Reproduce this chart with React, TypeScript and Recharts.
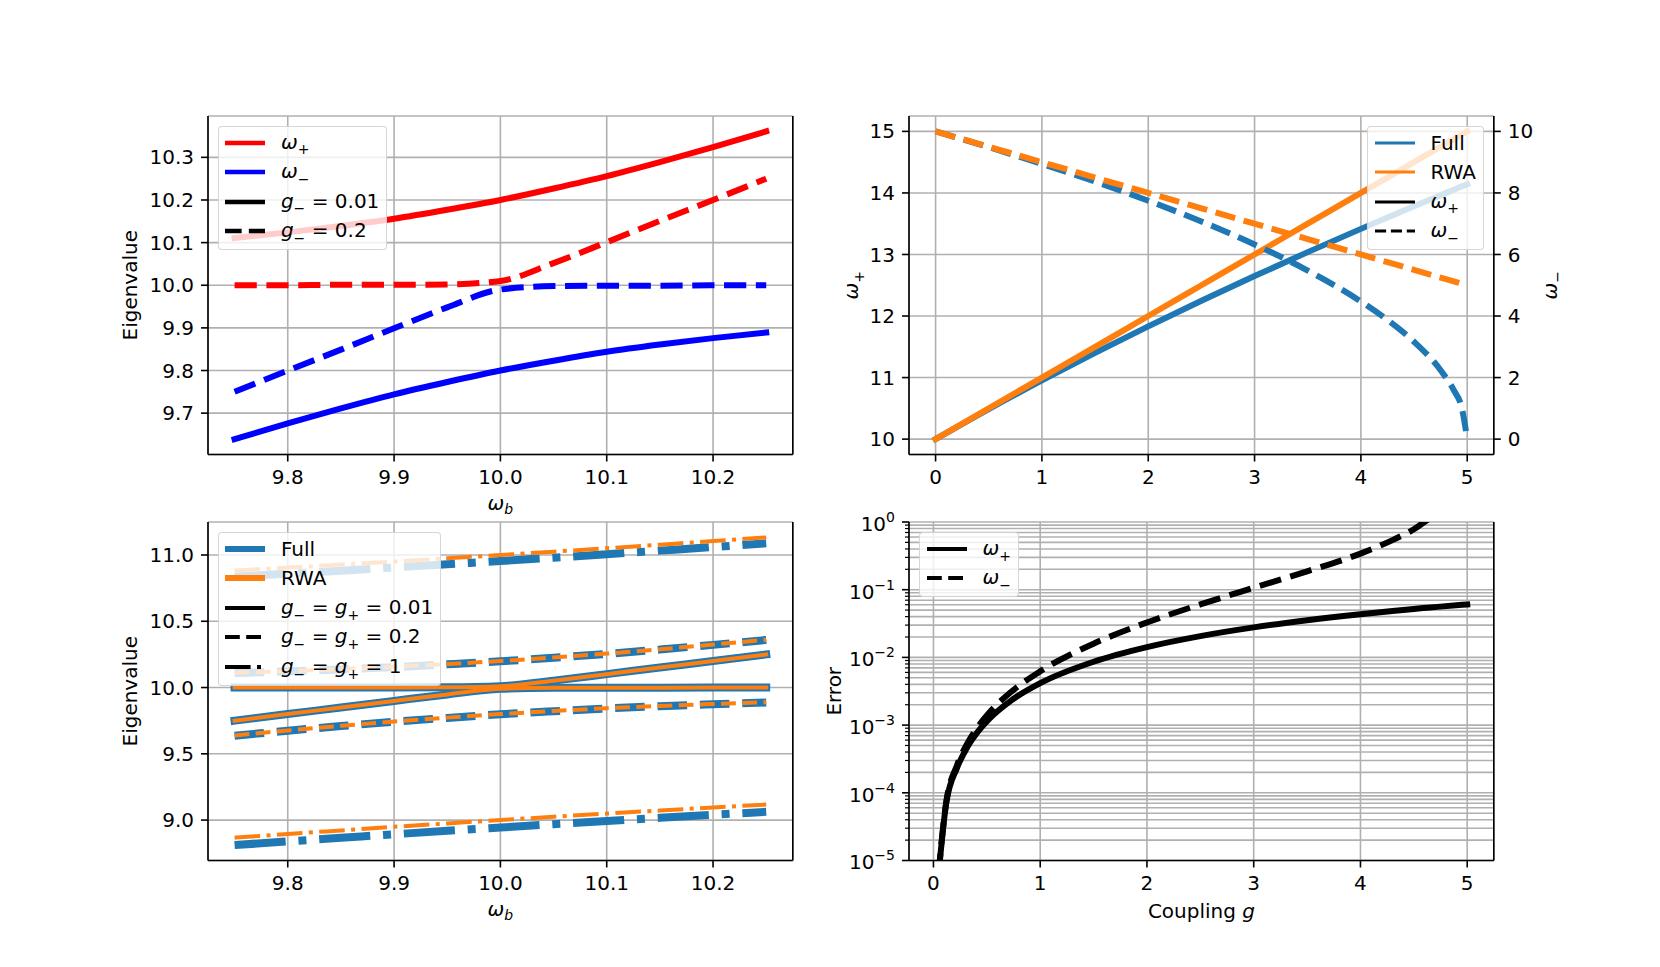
import React from "react";
import { LineChart, Line, XAxis, YAxis, CartesianGrid } from "recharts";

const FONT = '"DejaVu Sans", sans-serif';
const FS = 20;
const SUB = 14;
const GRID = "#b0b0b0";
const FULL = "#1f77b4";
const RWA = "#ff7f0e";

// axes box geometry (matplotlib default subplot params at 1660x967)
const PW = 584.8;
const PH = 338.5;
const YW = 100;
const MT = 20;
const XH = 70;
const CW = YW + PW + YW;
const CH = MT + PH + XH;
const COL = [207.5, 909.2];
const ROW = [116, 522.2];

// ---- top-left: eigenvalues vs omega_b
const wb = [9.75, 9.8, 9.85, 9.9, 9.95, 10.0, 10.05, 10.1, 10.15, 10.2, 10.25];
const tlUpSolid = [10.111, 10.124, 10.139, 10.156, 10.177, 10.2, 10.227, 10.256, 10.289, 10.324, 10.361];
const tlLoSolid = [9.639, 9.676, 9.711, 9.744, 9.773, 9.8, 9.823, 9.844, 9.861, 9.876, 9.889];
const tlUpDash = [10.0, 10.0, 10.001, 10.001, 10.002, 10.01, 10.052, 10.101, 10.151, 10.2, 10.25];
const tlLoDash = [9.75, 9.8, 9.849, 9.899, 9.948, 9.99, 9.998, 9.999, 9.999, 10.0, 10.0];
const wbTicks = [9.8, 9.9, 10.0, 10.1, 10.2];
const tlYTicks = [9.7, 9.8, 9.9, 10.0, 10.1, 10.2, 10.3];

// ---- top-right: omega_+/- vs coupling g
const g = [0, 0.5, 1, 1.5, 2, 2.5, 3, 3.5, 4, 4.25, 4.5, 4.75, 4.875, 4.95, 5];
const fullPlus = [10, 10.488, 10.954, 11.402, 11.832, 12.247, 12.649, 13.038, 13.416, 13.601, 13.784, 13.964, 14.053, 14.107, 14.142];
const fullMinus = [10, 9.487, 8.944, 8.367, 7.746, 7.071, 6.325, 5.477, 4.472, 3.873, 3.162, 2.236, 1.581, 1.0, 0];
const rwaPlus = [10, 10.5, 11, 11.5, 12, 12.5, 13, 13.5, 14, 14.25, 14.5, 14.75, 14.875, 14.95, 15];
const rwaMinus = [10, 9.5, 9, 8.5, 8, 7.5, 7, 6.5, 6, 5.75, 5.5, 5.25, 5.125, 5.05, 5];
const gTicks = [0, 1, 2, 3, 4, 5];
const trLeftTicks = [10, 11, 12, 13, 14, 15];
const trRightTicks = [0, 2, 4, 6, 8, 10];

// ---- bottom-left: Full vs RWA for three couplings
const b001Up = [10.0, 10.0, 10.001, 10.001, 10.002, 10.01, 10.052, 10.101, 10.151, 10.2, 10.25];
const b001Lo = [9.75, 9.8, 9.849, 9.899, 9.948, 9.99, 9.998, 9.999, 9.999, 10.0, 10.0];
const b02FullUp = [10.109, 10.122, 10.137, 10.154, 10.175, 10.198, 10.225, 10.254, 10.287, 10.322, 10.359];
const b02FullLo = [9.637, 9.674, 9.709, 9.742, 9.771, 9.798, 9.821, 9.842, 9.859, 9.874, 9.887];
const b02RwaUp = [10.111, 10.124, 10.139, 10.156, 10.177, 10.2, 10.227, 10.256, 10.289, 10.324, 10.361];
const b02RwaLo = [9.639, 9.676, 9.711, 9.744, 9.773, 9.8, 9.823, 9.844, 9.861, 9.876, 9.889];
const b1FullUp = [10.837, 10.859, 10.882, 10.906, 10.93, 10.954, 10.98, 11.006, 11.033, 11.06, 11.088];
const b1FullLo = [8.811, 8.839, 8.866, 8.893, 8.919, 8.944, 8.969, 8.993, 9.017, 9.04, 9.062];
const b1RwaUp = [10.883, 10.905, 10.928, 10.951, 10.975, 11.0, 11.025, 11.051, 11.078, 11.105, 11.133];
const b1RwaLo = [8.867, 8.895, 8.922, 8.949, 8.975, 9.0, 9.025, 9.049, 9.072, 9.095, 9.117];
const blYTicks = [9.0, 9.5, 10.0, 10.5, 11.0];

// ---- bottom-right: relative error of RWA
const gErr = [0.02, 0.12, 0.22, 0.32, 0.42, 0.52, 0.72, 1.0, 1.5, 2, 2.5, 3, 3.5, 4, 4.3, 4.5, 4.62, 4.72, 5];
const errPlus = [1.99e-6, 7.03e-5, 2.318e-4, 4.81e-4, 8.13e-4, 1.224e-3, 2.263e-3, 4.158e-3, 8.62e-3, 1.419e-2, 2.062e-2, 2.774e-2, 3.54e-2, 4.35e-2, 4.853e-2, 5.194e-2, 5.401e-2, 5.575e-2, 6.066e-2];
const errMinus = [2.01e-6, 7.38e-5, 2.531e-4, 5.47e-4, 9.62e-4, 1.508e-3, 3.023e-3, 6.231e-3, 1.594e-2, 3.28e-2, 6.066e-2, 0.1068, 0.1867, 0.3416, 0.54, 0.78, 1.05, 1.3, null];
const logMajor = [1e-5, 1e-4, 1e-3, 1e-2, 1e-1, 1];
const logTicks = logMajor.flatMap((m) => (m === 1 ? [1] : [1, 2, 3, 4, 5, 6, 7, 8, 9].map((k) => k * m)));

const tlData = wb.map((x, i) => ({ x, upS: tlUpSolid[i], loS: tlLoSolid[i], upD: tlUpDash[i], loD: tlLoDash[i] }));
const trData = g.map((x, i) => ({ x, fp: fullPlus[i], fm: fullMinus[i], rp: rwaPlus[i], rm: rwaMinus[i] }));
const blData = wb.map((x, i) => ({
  x,
  a1: b001Up[i], a2: b001Lo[i],
  f2u: b02FullUp[i], f2l: b02FullLo[i], r2u: b02RwaUp[i], r2l: b02RwaLo[i],
  f1u: b1FullUp[i], f1l: b1FullLo[i], r1u: b1RwaUp[i], r1l: b1RwaLo[i],
}));
const brData = gErr.map((x, i) => ({ x, ep: errPlus[i], em: errMinus[i] }));

const dashed = (w: number) => `${3.7 * w} ${1.6 * w}`;
const dashdot = (w: number) => `${6.4 * w} ${1.6 * w} ${w} ${1.6 * w}`;
const f1 = (v: number) => v.toFixed(1);
const f0 = (v: number) => String(v);

const spine = { stroke: "#000", strokeWidth: 1.6 };
const tickStyle = { fill: "#000", fontSize: FS, fontFamily: FONT };
const axisCommon = {
  stroke: "#000",
  axisLine: spine,
  tickLine: spine,
  tickSize: 7,
  tick: tickStyle,
  interval: 0 as const,
};

const Sub = ({ children }: { children: React.ReactNode }) => (
  <span style={{ fontSize: SUB, position: "relative", top: 5.6 }}>{children}</span>
);
const Om = ({ s }: { s: string }) => (
  <>
    <i>ω</i>
    <Sub>{s}</Sub>
  </>
);
const G = ({ s }: { s: string }) => (
  <>
    <i>g</i>
    <Sub>{s}</Sub>
  </>
);

type Entry = { color: string; width: number; dash?: string; label: React.ReactNode };

function Legend({ entries, pos }: { entries: Entry[]; pos: React.CSSProperties }) {
  return (
    <div
      style={{
        position: "absolute",
        ...pos,
        background: "rgba(255,255,255,0.8)",
        border: "1.6px solid rgba(204,204,204,0.8)",
        borderRadius: 4,
        padding: "1px 7px 3px 6.4px",
        fontFamily: FONT,
        fontSize: FS,
        color: "#000",
      }}
    >
      {entries.map((e, i) => (
        <div key={i} style={{ display: "flex", alignItems: "center", height: 29.5 }}>
          <svg width={40} height={12} style={{ flex: "none", overflow: "visible" }}>
            <line x1={0} x2={40} y1={6} y2={6} stroke={e.color} strokeWidth={e.width} strokeDasharray={e.dash} />
          </svg>
          <span style={{ marginLeft: 16, whiteSpace: "nowrap", lineHeight: "20px" }}>{e.label}</span>
        </div>
      ))}
    </div>
  );
}

// axis titles, placed against the known axes box of every panel
const xTitle = (node: React.ReactNode, dy: number) => () => (
  <text x={YW + PW / 2} y={MT + PH + dy} textAnchor="middle" fontSize={FS} fontFamily={FONT} fill="#000">
    {node}
  </text>
);
const yTitle = (node: React.ReactNode, bx: number) => () => {
  const cy = MT + PH / 2;
  return (
    <text x={bx} y={cy} transform={`rotate(-90 ${bx} ${cy})`} textAnchor="middle" fontSize={FS} fontFamily={FONT} fill="#000">
      {node}
    </text>
  );
};

const omWb = (
  <>
    <tspan fontStyle="italic">ω</tspan>
    <tspan fontStyle="italic" fontSize={SUB} dy={4}>b</tspan>
  </>
);
const svgOm = (s: string) => (
  <>
    <tspan fontStyle="italic">ω</tspan>
    <tspan fontSize={SUB} dy={5.6}>{s}</tspan>
  </>
);

function LogTick({ x, y, payload }: any) {
  const v = payload.value;
  const major = logMajor.includes(v);
  const sx = x + 14;
  const e = Math.round(Math.log10(v));
  return (
    <g>
      <line x1={sx - (major ? 7 : 4)} x2={sx} y1={y} y2={y} stroke="#000" strokeWidth={major ? 1.6 : 1.2} />
      {major && (
        <text x={x} y={y + 9} textAnchor="end" fontSize={FS} fontFamily={FONT} fill="#000">
          10
          <tspan fontSize={SUB} dy={-9}>{e < 0 ? `\u2212${-e}` : `${e}`}</tspan>
        </text>
      )}
    </g>
  );
}

const lineBase = { dot: false, activeDot: false, isAnimationActive: false, type: "monotone" as const };

function Panel({ c, r, children }: { c: number; r: number; children: React.ReactNode }) {
  return (
    <div style={{ position: "absolute", left: COL[c] - YW, top: ROW[r] - MT, width: CW, height: CH }}>{children}</div>
  );
}

const margin = { top: MT, right: 0, bottom: 0, left: 0 };

function TopLeft() {
  return (
    <Panel c={0} r={0}>
      <LineChart width={CW} height={CH} data={tlData} margin={margin}>
        <CartesianGrid stroke={GRID} strokeWidth={1.6} />
        <Line {...lineBase} dataKey="upS" stroke="#ff0000" strokeWidth={6} strokeLinecap="square" />
        <Line {...lineBase} dataKey="loS" stroke="#0000ff" strokeWidth={6} strokeLinecap="square" />
        <Line {...lineBase} dataKey="upD" stroke="#ff0000" strokeWidth={6} strokeDasharray={dashed(6)} />
        <Line {...lineBase} dataKey="loD" stroke="#0000ff" strokeWidth={6} strokeDasharray={dashed(6)} />
        <XAxis dataKey="x" type="number" domain={[9.725, 10.275]} ticks={wbTicks} tickFormatter={f1} height={XH} tickMargin={8} {...axisCommon} label={xTitle(omWb, 56)} />
        <XAxis xAxisId="top" orientation="top" type="number" domain={[0, 1]} height={0} tick={false} tickLine={false} axisLine={spine} />
        <YAxis type="number" domain={[9.603, 10.397]} ticks={tlYTicks} tickFormatter={f1} width={YW} tickMargin={7} {...axisCommon} label={yTitle("Eigenvalue", YW - 71)} />
        <YAxis yAxisId="spine" orientation="right" type="number" domain={[0, 1]} width={YW} tick={false} tickLine={false} axisLine={spine} />
      </LineChart>
      <Legend
        pos={{ left: YW + 10, top: MT + 10 }}
        entries={[
          { color: "#ff0000", width: 4.5, label: <Om s="+" /> },
          { color: "#0000ff", width: 4.5, label: <Om s={"\u2212"} /> },
          { color: "#000", width: 4.5, label: <><G s={"\u2212"} /> = 0.01</> },
          { color: "#000", width: 4.5, dash: dashed(4.5), label: <><G s={"\u2212"} /> = 0.2</> },
        ]}
      />
    </Panel>
  );
}

function TopRight() {
  return (
    <Panel c={1} r={0}>
      <LineChart width={CW} height={CH} data={trData} margin={margin}>
        <CartesianGrid stroke={GRID} strokeWidth={1.6} yAxisId="left" />
        <Line {...lineBase} yAxisId="left" dataKey="fp" stroke={FULL} strokeWidth={6} strokeLinecap="square" />
        <Line {...lineBase} yAxisId="left" dataKey="rp" stroke={RWA} strokeWidth={6} strokeLinecap="square" />
        <Line {...lineBase} yAxisId="right" dataKey="fm" stroke={FULL} strokeWidth={6} strokeDasharray={dashed(5.5)} />
        <Line {...lineBase} yAxisId="right" dataKey="rm" stroke={RWA} strokeWidth={6} strokeDasharray={dashed(5.5)} />
        <XAxis dataKey="x" type="number" domain={[-0.25, 5.25]} ticks={gTicks} tickFormatter={f0} height={XH} tickMargin={8} {...axisCommon} />
        <XAxis xAxisId="top" orientation="top" type="number" domain={[0, 1]} height={0} tick={false} tickLine={false} axisLine={spine} />
        <YAxis yAxisId="left" type="number" domain={[9.75, 15.25]} ticks={trLeftTicks} tickFormatter={f0} width={YW} tickMargin={7} {...axisCommon} label={yTitle(svgOm("+"), YW - 51)} />
        <YAxis yAxisId="right" orientation="right" type="number" domain={[-0.5, 10.5]} ticks={trRightTicks} tickFormatter={f0} width={YW} tickMargin={7} {...axisCommon} label={yTitle(svgOm("\u2212"), YW + PW + 63)} />
      </LineChart>
      <Legend
        pos={{ right: YW + 10, top: MT + 10 }}
        entries={[
          { color: FULL, width: 3, label: "Full" },
          { color: RWA, width: 3, label: "RWA" },
          { color: "#000", width: 3, label: <Om s="+" /> },
          { color: "#000", width: 3, dash: dashed(3), label: <Om s={"\u2212"} /> },
        ]}
      />
    </Panel>
  );
}

function BottomLeft() {
  return (
    <Panel c={0} r={1}>
      <LineChart width={CW} height={CH} data={blData} margin={margin}>
        <CartesianGrid stroke={GRID} strokeWidth={1.6} />
        <Line {...lineBase} dataKey="a1" stroke={FULL} strokeWidth={8} strokeLinecap="square" />
        <Line {...lineBase} dataKey="a2" stroke={FULL} strokeWidth={8} strokeLinecap="square" />
        <Line {...lineBase} dataKey="a1" stroke={RWA} strokeWidth={4} strokeLinecap="square" />
        <Line {...lineBase} dataKey="a2" stroke={RWA} strokeWidth={4} strokeLinecap="square" />
        <Line {...lineBase} dataKey="f2u" stroke={FULL} strokeWidth={8} strokeDasharray={dashed(8)} />
        <Line {...lineBase} dataKey="f2l" stroke={FULL} strokeWidth={8} strokeDasharray={dashed(8)} />
        <Line {...lineBase} dataKey="r2u" stroke={RWA} strokeWidth={4} strokeDasharray={dashed(4)} />
        <Line {...lineBase} dataKey="r2l" stroke={RWA} strokeWidth={4} strokeDasharray={dashed(4)} />
        <Line {...lineBase} dataKey="f1u" stroke={FULL} strokeWidth={8} strokeDasharray={dashdot(8)} />
        <Line {...lineBase} dataKey="f1l" stroke={FULL} strokeWidth={8} strokeDasharray={dashdot(8)} />
        <Line {...lineBase} dataKey="r1u" stroke={RWA} strokeWidth={4} strokeDasharray={dashdot(4)} />
        <Line {...lineBase} dataKey="r1l" stroke={RWA} strokeWidth={4} strokeDasharray={dashdot(4)} />
        <XAxis dataKey="x" type="number" domain={[9.725, 10.275]} ticks={wbTicks} tickFormatter={f1} height={XH} tickMargin={8} {...axisCommon} label={xTitle(omWb, 56)} />
        <XAxis xAxisId="top" orientation="top" type="number" domain={[0, 1]} height={0} tick={false} tickLine={false} axisLine={spine} />
        <YAxis type="number" domain={[8.695, 11.249]} ticks={blYTicks} tickFormatter={f1} width={YW} tickMargin={7} {...axisCommon} label={yTitle("Eigenvalue", YW - 71)} />
        <YAxis yAxisId="spine" orientation="right" type="number" domain={[0, 1]} width={YW} tick={false} tickLine={false} axisLine={spine} />
      </LineChart>
      <Legend
        pos={{ left: YW + 10, top: MT + 10 }}
        entries={[
          { color: FULL, width: 6, label: "Full" },
          { color: RWA, width: 6, label: "RWA" },
          { color: "#000", width: 4, label: <><G s={"\u2212"} /> = <G s="+" /> = 0.01</> },
          { color: "#000", width: 4, dash: dashed(4), label: <><G s={"\u2212"} /> = <G s="+" /> = 0.2</> },
          { color: "#000", width: 4, dash: dashdot(4), label: <><G s={"\u2212"} /> = <G s="+" /> = 1</> },
        ]}
      />
    </Panel>
  );
}

function BottomRight() {
  return (
    <Panel c={1} r={1}>
      <LineChart width={CW} height={CH} data={brData} margin={margin}>
        <CartesianGrid stroke={GRID} strokeWidth={1.6} />
        <Line {...lineBase} dataKey="ep" stroke="#000" strokeWidth={6} strokeLinecap="square" />
        <Line {...lineBase} dataKey="em" stroke="#000" strokeWidth={6} strokeDasharray={dashed(6)} />
        <XAxis dataKey="x" type="number" domain={[-0.229, 5.249]} ticks={gTicks} tickFormatter={f0} height={XH} tickMargin={8} {...axisCommon}
          label={xTitle(<><tspan>Coupling </tspan><tspan fontStyle="italic">g</tspan></>, 58)} />
        <XAxis xAxisId="top" orientation="top" type="number" domain={[0, 1]} height={0} tick={false} tickLine={false} axisLine={spine} />
        <YAxis type="number" scale="log" domain={[1e-5, 1]} allowDataOverflow ticks={logTicks} width={YW} tickMargin={7} {...axisCommon}
          tickLine={false} tick={<LogTick />} label={yTitle("Error", YW - 68)} />
        <YAxis yAxisId="spine" orientation="right" type="number" domain={[0, 1]} width={YW} tick={false} tickLine={false} axisLine={spine} />
      </LineChart>
      <Legend
        pos={{ left: YW + 10, top: MT + 10 }}
        entries={[
          { color: "#000", width: 4, label: <Om s="+" /> },
          { color: "#000", width: 4, dash: dashed(4), label: <Om s={"\u2212"} /> },
        ]}
      />
    </Panel>
  );
}

export default function App() {
  return (
    <div style={{ position: "absolute", left: 0, top: 0, width: 1660, height: 967, background: "#fff", fontFamily: FONT, overflow: "hidden" }}>
      <TopLeft />
      <TopRight />
      <BottomLeft />
      <BottomRight />
    </div>
  );
}
